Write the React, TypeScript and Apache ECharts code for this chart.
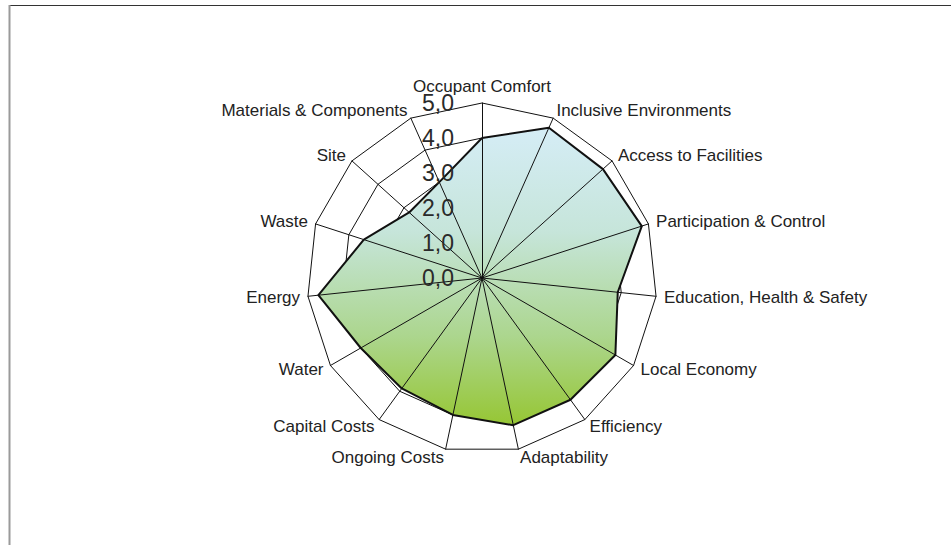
import React, { useEffect, useRef } from 'react';
import * as echarts from 'echarts';

// Clockwise from the top, as in the picture
const categories = [
  'Occupant Comfort',
  'Inclusive Environments',
  'Access to Facilities',
  'Participation & Control',
  'Education, Health & Safety',
  'Local Economy',
  'Efficiency',
  'Adaptability',
  'Ongoing Costs',
  'Capital Costs',
  'Water',
  'Energy',
  'Waste',
  'Site',
  'Materials & Components',
];
const scores = [4.0, 4.7, 4.65, 4.8, 3.9, 4.4, 4.3, 4.3, 4.0, 3.9, 4.0, 4.7, 3.55, 2.8, 3.0];
const axisMax = 5;
const splitCount = 5;

// ECharts lays indicators out counter-clockwise; reorder to go clockwise.
const order = [0, ...categories.map((_, i) => i).slice(1).reverse()];

export default function App() {
  const ref = useRef<HTMLDivElement>(null);
  useEffect(() => {
    document.body.style.margin = '0';
    if (!ref.current) return;
    const chart = echarts.init(ref.current, undefined, { renderer: 'svg' });
    const fmt = (v: number) => v.toFixed(1).replace('.', ',');
    const indicator0 = order.map((i) => ({ name: categories[i], max: axisMax, min: 0 }));
    const indicator1 = order.map((i, k) => ({
      name: '',
      max: axisMax,
      min: 0,
      axisLabel: k === 0
        ? { show: true, fontSize: 23, color: '#2a2a2a', margin: 28, formatter: fmt, fontFamily: 'Liberation Sans, Arial, sans-serif' }
        : { show: false },
    }));
    const common = {
      center: [482, 278],
      radius: 175,
      startAngle: 90,
      shape: 'polygon' as const,
      splitNumber: splitCount,
    };
    const seriesData = [{ value: order.map((i) => scores[i]), name: 'Score' }];
    chart.setOption({
      animation: false,
      backgroundColor: '#ffffff',
      textStyle: { fontFamily: 'Liberation Sans, Arial, sans-serif' },
      graphic: [
        { type: 'line', shape: { x1: 9, y1: 5.5, x2: 951, y2: 5.5 }, style: { stroke: '#333', lineWidth: 1 }, z: 10 },
        { type: 'line', shape: { x1: 9.5, y1: 5, x2: 9.5, y2: 545 }, style: { stroke: '#9a9a9a', lineWidth: 2 }, z: 10 },
      ],
      radar: [
        {
          ...common,
          indicator: indicator0,
          z: 1,
          axisName: { color: '#222', fontSize: 17, fontFamily: 'Liberation Sans, Arial, sans-serif' },
          nameGap: 8,
          axisLine: { show: false },
          axisTick: { show: false },
          axisLabel: { show: false },
          splitLine: { show: true, lineStyle: { color: '#111', width: 1 } },
          splitArea: { show: false },
        },
        {
          ...common,
          indicator: indicator1,
          z: 5,
          axisName: { show: false },
          axisLine: { show: true, lineStyle: { color: '#111', width: 1 } },
          axisTick: { show: false },
          axisLabel: { show: false },
          splitLine: { show: false },
          splitArea: { show: false },
        },
      ],
      series: [
        {
          type: 'radar',
          radarIndex: 0,
          z: 2,
          symbol: 'none',
          lineStyle: { width: 0, opacity: 0 },
          areaStyle: {
            opacity: 1,
            color: new echarts.graphic.LinearGradient(0, 0, 0, 1, [
              { offset: 0, color: '#d5edf6' },
              { offset: 0.35, color: '#c6e5da' },
              { offset: 0.7, color: '#acd68e' },
              { offset: 1, color: '#96c634' },
            ]),
          },
          data: seriesData,
        },
        {
          type: 'radar',
          radarIndex: 0,
          z: 3,
          symbol: 'none',
          lineStyle: { color: '#111', width: 2 },
          data: seriesData,
        },
      ],
    });
    return () => chart.dispose();
  }, []);
  return <div ref={ref} style={{ width: 951, height: 545 }} />;
}
